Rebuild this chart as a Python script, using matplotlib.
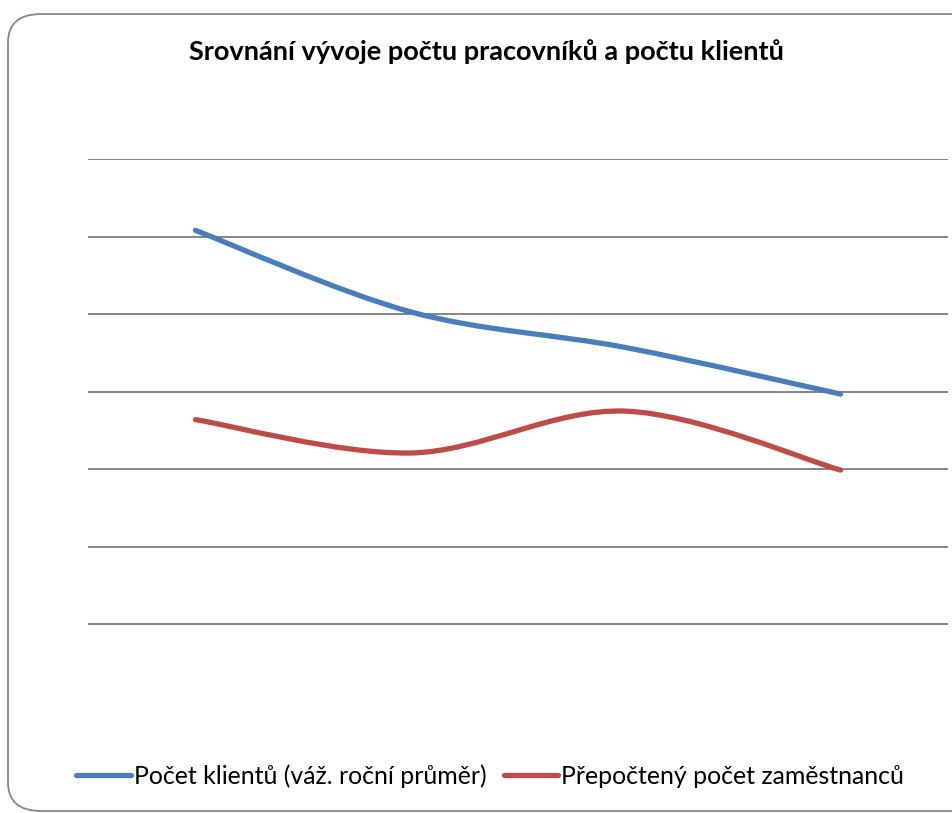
import matplotlib
matplotlib.use("Agg")
import matplotlib.pyplot as plt
from matplotlib.path import Path
from matplotlib.patches import PathPatch, FancyBboxPatch
from matplotlib.lines import Line2D

# données (unités d'une graduation)
roky = ["1", "2", "3", "4"]
klienti = [6.08, 5.03, 4.57, 3.97]
zamestnanci = [3.64, 3.21, 3.75, 2.99]

titulek = "Srovnání vývoje počtu pracovníků a počtu klientů"
popisky = ["Počet klientů (váž. roční průměr)", "Přepočtený počet zaměstnanců"]
barvy = ["#4A7EBB", "#BE4B48"]

plt.rcParams["font.family"] = ["Lato", "DejaVu Sans"]


def smooth_path(xs, ys):
    # courbe de Bézier lissée comme dans Excel
    verts = [(xs[0], ys[0])]
    codes = [Path.MOVETO]
    n = len(xs)
    for i in range(n - 1):
        p0 = (xs[max(i - 1, 0)], ys[max(i - 1, 0)])
        p1 = (xs[i], ys[i])
        p2 = (xs[i + 1], ys[i + 1])
        p3 = (xs[min(i + 2, n - 1)], ys[min(i + 2, n - 1)])
        c1 = (p1[0] + (p2[0] - p0[0]) / 6, p1[1] + (p2[1] - p0[1]) / 6)
        c2 = (p2[0] - (p3[0] - p1[0]) / 6, p2[1] - (p3[1] - p1[1]) / 6)
        verts += [c1, c2, p2]
        codes += [Path.CURVE4] * 3
    return Path(verts, codes)


fig = plt.figure(figsize=(9.52, 8.13), dpi=100)

# cadre arrondi
frame = FancyBboxPatch((8 / 952, 2 / 813), 980 / 952, (813 - 14 - 2) / 813,
                       boxstyle="round,pad=0,rounding_size=0.035",
                       transform=fig.transFigure, facecolor="white",
                       edgecolor="#868686", linewidth=1.3, zorder=-5)
fig.patches.append(frame)

ax = fig.add_axes([88 / 952, 1 - 702 / 813, (948 - 88) / 952, (702 - 159) / 813])
ax.set_facecolor("none")
ax.set_xlim(-0.5, 3.5)
ax.set_ylim(0, 7)
ax.set_yticks(range(1, 8))
ax.set_xticks([])
ax.tick_params(left=False, labelleft=False)
ax.grid(axis="y", color="#868686", linewidth=1.4)
ax.set_axisbelow(True)
for s in ax.spines.values():
    s.set_visible(False)

x = list(range(len(roky)))
for serie, barva in zip([klienti, zamestnanci], barvy):
    ax.add_patch(PathPatch(smooth_path(x, serie), fill=False, edgecolor=barva,
                           linewidth=3.8, capstyle="round", joinstyle="round",
                           clip_on=False))

fig.text(486 / 952, 1 - 52 / 813, titulek, ha="center", va="center",
         fontsize=19.5, fontweight="bold")

handles = [Line2D([], [], color=b, linewidth=3.8, solid_capstyle="round") for b in barvy]
fig.legend(handles, popisky, loc="center", bbox_to_anchor=(490 / 952, 1 - 776 / 813),
           ncol=2, frameon=False, fontsize=17.9, handlelength=2.2,
           handletextpad=0.12, columnspacing=0.7, borderpad=0, borderaxespad=0)

fig.savefig("out.png", dpi=100)
